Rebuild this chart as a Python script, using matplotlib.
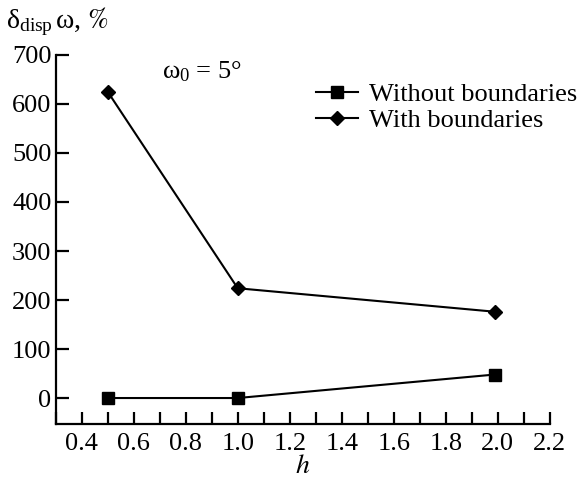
import matplotlib
matplotlib.use('Agg')
import matplotlib.pyplot as plt
from matplotlib.ticker import MultipleLocator

plt.rcParams['font.family'] = ['Liberation Serif', 'DejaVu Serif']
plt.rcParams['mathtext.fontset'] = 'stix'

# data
h = [0.5, 1.0, 1.99]
without_bnd = [0, 0, 48]
with_bnd = [625, 224, 176]
xticks = [0.4, 0.6, 0.8, 1.0, 1.2, 1.4, 1.6, 1.8, 2.0, 2.2]
xticklabels = ['0.4', '0.6', '0.8', '1.0', '1.2', '1.4', '1.6', '1.8', '2.0', '2.2']

fig = plt.figure(figsize=(5.8, 4.78), dpi=100)
ax = fig.add_axes([0.096, 0.114, 0.852, 0.771])

ax.plot(h, without_bnd, color='black', lw=1.5, marker='s', ms=9,
        label='Without boundaries')
ax.plot(h, with_bnd, color='black', lw=1.5, marker='D', ms=7,
        label='With boundaries')

ax.set_xlim(0.3, 2.2)
ax.set_ylim(-52, 700)
ax.set_xticks(xticks)
ax.set_xticklabels(xticklabels)
ax.xaxis.set_minor_locator(MultipleLocator(0.1))
ax.yaxis.set_major_locator(MultipleLocator(100))

for s in ['top', 'right']:
    ax.spines[s].set_visible(False)
for s in ['left', 'bottom']:
    ax.spines[s].set_linewidth(1.6)

ax.tick_params(which='both', direction='in', length=9, width=1.6, labelsize=19)
ax.tick_params(axis='x', pad=7)
ax.tick_params(axis='y', pad=3)

ax.set_xlabel('$h$', fontsize=20, labelpad=-1)
fig.text(0.01, 0.955, r'$\mathregular{\delta_{disp}\,\omega}$, $\mathit{\%}$', fontsize=20,
         va='center', ha='left')
ax.text(0.71, 665, r'$\mathregular{\omega_0}$ = 5°', fontsize=19, ha='left', va='center')

leg = ax.legend(loc='upper left', bbox_to_anchor=(0.527, 0.925), frameon=False,
                fontsize=19, handlelength=1.6, handletextpad=0.4,
                labelspacing=0.1, borderaxespad=0, borderpad=0)

fig.savefig('out.png', dpi=100)
